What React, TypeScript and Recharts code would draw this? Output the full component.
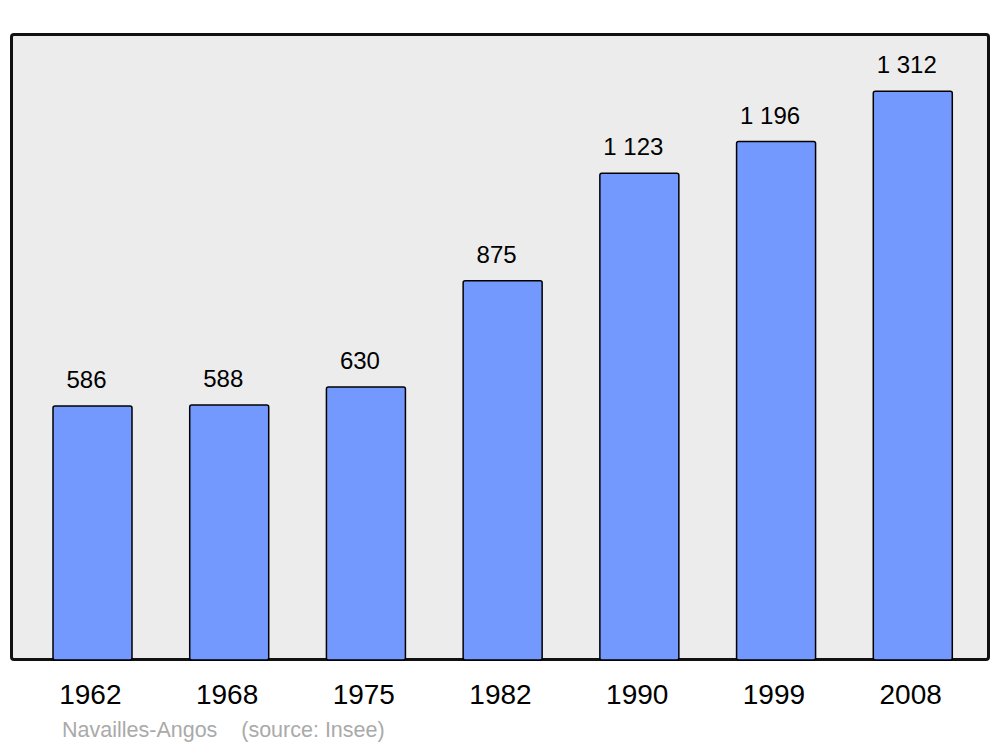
import { Bar, BarChart, LabelList, XAxis, YAxis } from "recharts";

const YEARS = ["1962", "1968", "1975", "1982", "1990", "1999", "2008"];
const POPULATION = [586, 588, 630, 875, 1123, 1196, 1312];
const COMMUNE = "Navailles-Angos";
const SOURCE = "(source: Insee)";

const data = YEARS.map((year, i) => ({ year, pop: POPULATION[i] }));

const W = 1000;
const H = 747;
const AXIS_H = 60;
const M = { top: 34, right: 11, left: 11, bottom: 87 - AXIS_H };

// thousands separated by a space, like the original
const fmt = (v: unknown) => String(v).replace(/\B(?=(\d{3})+(?!\d))/g, " ");

export default function App() {
  return (
    <div
      style={{
        position: "absolute",
        left: 0,
        top: 0,
        width: W,
        height: H,
        background: "#fff",
        fontFamily: "'Liberation Sans', Arial, sans-serif",
      }}
    >
      {/* plot frame */}
      <div
        style={{
          position: "absolute",
          left: M.left - 1,
          top: M.top - 1,
          width: W - M.left - M.right + 2,
          height: H - M.top - 87 + 2,
          boxSizing: "border-box",
          background: "#ececec",
          border: "3px solid #111",
          borderRadius: 4,
        }}
      />
      <div style={{ position: "absolute", left: 0, top: 0 }}>
        <BarChart width={W} height={H} data={data} margin={M} barCategoryGap={0}>
          <XAxis
            dataKey="year"
            height={AXIS_H}
            axisLine={false}
            tickLine={false}
            tickSize={0}
            tickMargin={24}
            padding={{ left: 13, right: 8 }}
            tick={{ fontSize: 28, fill: "#000", dx: -2 }}
            interval={0}
          />
          <YAxis hide domain={[0, 1444]} />
          <Bar
            dataKey="pop"
            fill="#7399ff"
            stroke="#000"
            strokeWidth={1.5}
            radius={2}
            barSize={79}
            isAnimationActive={false}
          >
            <LabelList
              dataKey="pop"
              position="top"
              offset={18}
              formatter={fmt}
              style={{ fontSize: 24, fill: "#000" }}
              dx={-6}
            />
          </Bar>
        </BarChart>
      </div>
      <div
        style={{
          position: "absolute",
          left: 62,
          top: 718,
          fontSize: 21.5,
          color: "#aaa",
          whiteSpace: "pre",
        }}
      >
        {COMMUNE + "    " + SOURCE}
      </div>
    </div>
  );
}
